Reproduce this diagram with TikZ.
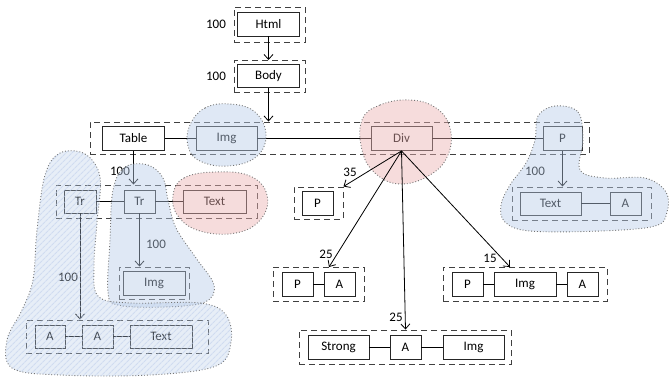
\documentclass[tikz,border=0pt]{standalone}
\usepackage{fontspec}
\setmainfont{Carlito}
\usetikzlibrary{arrows.meta,patterns.meta}
\definecolor{blobblue}{RGB}{185,205,232}
\definecolor{blobred}{RGB}{235,178,178}
\definecolor{hatchblue}{RGB}{190,206,235}
\begin{document}
\begin{tikzpicture}[x=1pt,y=-1pt,
 box/.style={draw=black!85, line width=0.9pt, fill=white, inner sep=0pt, minimum height=24pt, font=\fontsize{13}{15}\selectfont},
 grp/.style={draw=black!75, line width=1pt, dash pattern=on 6pt off 4pt, inner sep=0pt},
 lbl/.style={font=\fontsize{13}{15}\selectfont, inner sep=0pt},
 arr/.style={-{Straight Barb[length=5pt,width=9pt]}, line width=0.8pt},
 conn/.style={line width=0.8pt},
 blueblob/.style={fill=blobblue, fill opacity=0.45, draw=black!55, dotted, line width=0.9pt},
 redblob/.style={fill=blobred, fill opacity=0.45, draw=black!55, dotted, line width=0.9pt},
 hatchblob/.style={fill=blobblue, fill opacity=0.35, draw=black!55, dotted, line width=0.9pt,
   postaction={pattern={Lines[angle=45, distance=4pt, line width=1.2pt]}, pattern color=hatchblue, fill opacity=0.55}}]
\useasboundingbox (0,0) rectangle (669,376);

% groups
\node[grp, minimum width=71pt, minimum height=35pt] (ghtml) at (269.5,24.5) {};
\node[grp, minimum width=71pt, minimum height=32pt] (gbody) at (269.5,76.5) {};
\node[grp, minimum width=499pt, minimum height=32pt] (grow1) at (339.5,138) {};
\node[grp, minimum width=201pt, minimum height=33pt] (gtr) at (156.5,201.5) {};
\node[grp, minimum width=70pt, minimum height=32pt] (gimg) at (154,283) {};
\node[grp, minimum width=182pt, minimum height=33pt] (gbot) at (117,336.5) {};
\node[grp, minimum width=49pt, minimum height=32pt] (gp) at (318.5,203) {};
\node[grp, minimum width=91pt, minimum height=34pt] (gpa) at (318.5,284) {};
\node[grp, minimum width=212pt, minimum height=34pt] (gstrong) at (405,347) {};
\node[grp, minimum width=164pt, minimum height=34pt] (gpia) at (525,284) {};
\node[grp, minimum width=139pt, minimum height=33pt] (gta) at (581.5,203.5) {};

% boxes
\node[box, minimum width=62pt] (html) at (268.5,24) {Html};
\node[box, minimum width=62pt, minimum height=23pt] (body) at (268.5,76) {Body};
\node[box, minimum width=62pt] (table) at (133.5,138.5) {Table};
\node[box, minimum width=61pt] (img1) at (226.5,138.5) {Img};
\node[box, minimum width=61pt] (div) at (401.5,138.5) {Div};
\node[box, minimum width=39pt] (p1) at (562.5,138.5) {P};
\node[box, minimum width=32pt, minimum height=23pt] (tr1) at (80,201.5) {Tr};
\node[box, minimum width=31pt, minimum height=23pt] (tr2) at (139.5,201.5) {Tr};
\node[box, minimum width=63pt, minimum height=23pt] (text1) at (214.5,201.5) {Text};
\node[box, minimum width=62pt] (img2) at (154,283) {Img};
\node[box, minimum width=30pt, minimum height=23pt] (a1) at (50,336.5) {A};
\node[box, minimum width=31pt, minimum height=23pt] (a2) at (97.5,336.5) {A};
\node[box, minimum width=62pt, minimum height=23pt] (text2) at (161,336.5) {Text};
\node[box, minimum width=31pt] (p2) at (317.5,203) {P};
\node[box, minimum width=31pt] (pap) at (297.5,284) {P};
\node[box, minimum width=31pt] (paa) at (339.5,284) {A};
\node[box, minimum width=61pt] (strong) at (338.5,347) {Strong};
\node[box, minimum width=31pt] (sa) at (405.5,347) {A};
\node[box, minimum width=61pt] (simg) at (473.5,347) {Img};
\node[box, minimum width=31pt] (piap) at (467.5,284) {P};
\node[box, minimum width=62pt] (piaimg) at (525,284) {Img};
\node[box, minimum width=31pt] (piaa) at (582.5,284) {A};
\node[box, minimum width=61pt, minimum height=23pt] (text3) at (550.5,203.5) {Text};
\node[box, minimum width=31pt, minimum height=23pt] (a3) at (625.5,203.5) {A};

% plain connectors
\draw[conn] (table) -- (img1);
\draw[conn] (img1) -- (div);
\draw[conn] (div) -- (p1);
\draw[conn] (tr1) -- (tr2);
\draw[conn] (tr2) -- (text1);
\draw[conn] (a1) -- (a2);
\draw[conn] (a2) -- (text2);
\draw[conn] (pap) -- (paa);
\draw[conn] (strong) -- (sa);
\draw[conn] (sa) -- (simg);
\draw[conn] (piap) -- (piaimg);
\draw[conn] (piaimg) -- (piaa);
\draw[conn] (text3) -- (a3);

% arrows
\draw[arr] (html.south) -- (html.south |- gbody.north);
\draw[arr] (body.south) -- (body.south |- grow1.north);
\draw[arr] (table.south) -- (table.south |- gtr.north);
\draw[arr] (tr2.south) -- (tr2.south |- gimg.north);
\draw[arr] (tr1.south) -- (tr1.south |- gbot.north);
\draw[arr] (p1.south) -- (p1.south |- gta.north);

% labels
\node[lbl] (l1) at (216,24) {100};
\node[lbl] (l2) at (216,76) {100};
\node[lbl] (l3) at (120,171) {100};
\node[lbl] (l4) at (156,244) {100};
\node[lbl] (l5) at (68,277) {100};
\node[lbl] (l6) at (535,171) {100};

% blobs
\draw[blueblob] plot[smooth cycle, tension=0.7] coordinates {(190,125) (205,108) (230,104) (255,112) (266,135) (256,157) (228,166) (200,161) (188,146)};
\draw[redblob] plot[smooth cycle, tension=0.7] coordinates {(362,120) (380,105) (410,100) (436,108) (450,128) (448,155) (430,175) (400,184) (375,173) (362,150)};
\draw[redblob] plot[smooth cycle, tension=0.7] coordinates {(173,195) (184,178) (215,172) (250,176) (267,195) (261,219) (236,233) (200,231) (178,216)};
\draw[blueblob] plot[smooth cycle, tension=0.6] coordinates {(125,167) (148,165) (163,178) (168,200) (176,228) (196,258) (214,285) (205,302) (165,307) (118,305) (108,292) (110,240) (113,190)};
\draw[hatchblob] plot[smooth cycle, tension=0.6] coordinates {(60,153) (85,154) (100,177) (97,222) (94,265) (98,296) (130,303) (200,303) (226,315) (231,342) (216,366) (150,375) (60,375) (12,368) (7,340) (22,310) (33,280) (37,230) (45,175)};
\draw[blueblob] plot[smooth cycle, tension=0.6] coordinates {(555,106) (578,112) (583,140) (580,170) (605,178) (645,178) (666,192) (667,212) (655,226) (600,231) (530,231) (505,222) (501,205) (510,185) (526,163) (535,140) (538,116)};

% div arrows (on top)
\coordinate (cpa) at (329,267);
\coordinate (cpia) at (510,267);
\draw[arr] (div.south) -- (gp.north east);
\draw[arr] (div.south) -- (cpa);
\draw[arr] (div.south) -- (sa.north |- gstrong.north);
\draw[arr] (div.south) -- (cpia);
\node[lbl] (l7) at (350,172) {35};
\node[lbl] (l8) at (326,254) {25};
\node[lbl] (l9) at (396,317) {25};
\node[lbl] (l10) at (490,258) {15};
\end{tikzpicture}
\end{document}
